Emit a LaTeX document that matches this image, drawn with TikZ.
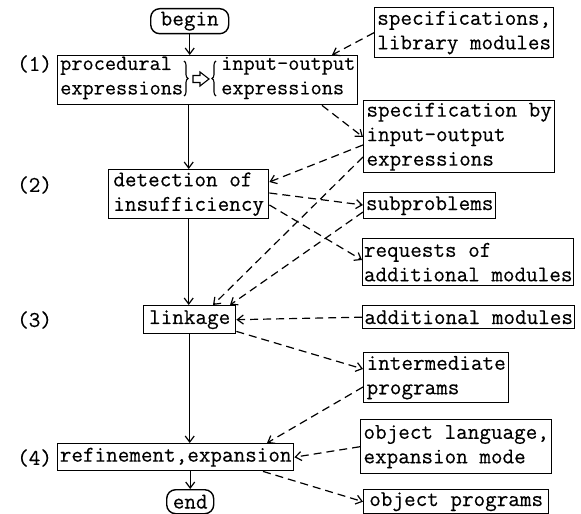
\documentclass[tikz,border=0pt]{standalone}
\usepackage{fontspec}
\setmonofont{Latin Modern Mono}[FakeBold=0.35]
\usetikzlibrary{arrows.meta,calc,decorations.pathreplacing}
\begin{document}
\begin{tikzpicture}[x=1bp,y=-1bp,
  every node/.style={font=\ttfamily\fontsize{22.5bp}{24.5bp}\selectfont, text=black},
  bx/.style={draw, line width=1.4bp, rectangle, anchor=north west, inner sep=0pt, align=left},
  term/.style={bx, rounded corners=9bp},
  flow/.style={line width=1.2bp, -{Straight Barb[length=6bp,width=9bp]}},
  dsh/.style={line width=1.2bp, dash pattern=on 8bp off 5bp, -{Straight Barb[length=6bp,width=9bp]}},
  lbl/.style={anchor=west, inner sep=0pt, align=left},
  small/.style={font=\ttfamily\fontsize{21.7bp}{24.5bp}\selectfont},
  brc/.style={line width=1.1bp, decorate, decoration={brace, amplitude=4bp}}]
\useasboundingbox (0,0) rectangle (581,514);

% main column
\node[term, minimum width=78bp, minimum height=25bp] (begin) at (150,8) {begin};
\node[bx, minimum width=300bp, minimum height=49bp] (box1) at (57,55) {};
\node[lbl, small] (proc) at (60,78) {procedural\\expressions};
\node[lbl, small] (io) at (221,78) {input-output\\expressions};
\draw[brc] (184,61) -- (184,96);
\draw[brc] (216,96) -- (216,61);
\draw[line width=1.1bp, fill=white] (193,75.5) -- (200,75.5) -- (200,72) -- (209,79) -- (200,86) -- (200,82.5) -- (193,82.5) -- cycle;

\node[bx, minimum width=160bp, minimum height=49bp] (detect) at (108,169) {detection of\\insufficiency};
\node[bx, minimum width=92bp, minimum height=28bp] (link) at (143,305) {linkage};
\node[bx, minimum width=236bp, minimum height=27bp] (refine) at (57,443) {refinement,expansion};
\node[term, minimum width=47bp, minimum height=24bp] (endn) at (166,489) {end};

% step labels
\node[lbl] (l1) at (17,64) {(1)};
\node[lbl] (l2) at (17,185) {(2)};
\node[lbl] (l3) at (17,320) {(3)};
\node[lbl] (l4) at (17,458) {(4)};

% right column
\node[bx, minimum width=179bp, minimum height=50bp] (spec) at (374,7) {specifications,\\library modules};
\node[bx, minimum width=191bp, minimum height=72bp] (specby) at (363,100) {specification by\\input-output\\expressions};
\node[bx, minimum width=132bp, minimum height=26bp] (subp) at (363,192) {subproblems};
\node[bx, minimum width=211bp, minimum height=47bp] (req) at (362,238) {requests of\\additional modules};
\node[bx, minimum width=212bp, minimum height=23bp] (addm) at (362,305) {additional modules};
\node[bx, minimum width=145bp, minimum height=50bp] (inter) at (363,352) {intermediate\\programs};
\node[bx, minimum width=191bp, minimum height=54bp] (objl) at (360,419) {object language,\\expansion mode};
\node[bx, minimum width=185bp, minimum height=24bp] (objp) at (363,489) {object programs};

% flow arrows
\draw[flow] (begin.south) -- (begin.south |- box1.north);
\draw[flow] (detect.north |- box1.south) -- (detect.north);
\draw[flow] (detect.south) -- (detect.south |- link.north);
\draw[flow] (link.south) -- (link.south |- refine.north);
\draw[flow] (endn.north |- refine.south) -- (endn.north);

% dashed arrows
\draw[dsh] (spec.west) -- ($(box1.north west)+(275,0)$);
\draw[dsh] ($(box1.south west)+(265,0)$) -- ($(specby.north west)+(0,37)$);
\draw[dsh] ($(specby.north west)+(0,45)$) -- ($(detect.north east)+(0,13)$);
\draw[dsh] ($(specby.north west)+(0,57)$) -- ($(link.north west)+(70,0)$);
\draw[dsh] ($(detect.north east)+(0,24)$) -- ($(subp.north west)+(0,13)$);
\draw[dsh] ($(detect.north east)+(0,36)$) -- ($(req.north west)+(0,22)$);
\draw[dsh] ($(subp.north west)+(0,20)$) -- ($(link.north west)+(87,0)$);
\draw[dsh] (addm.west) -- (link.east);
\draw[dsh] ($(link.south east)+(0,-3)$) -- ($(inter.north west)+(0,17)$);
\draw[dsh] ($(inter.north west)+(0,35)$) -- ($(refine.north west)+(210,0)$);
\draw[dsh] (objl.west) -- (refine.east);
\draw[dsh] ($(refine.south west)+(206,0)$) -- (objp.west);
\end{tikzpicture}
\end{document}
